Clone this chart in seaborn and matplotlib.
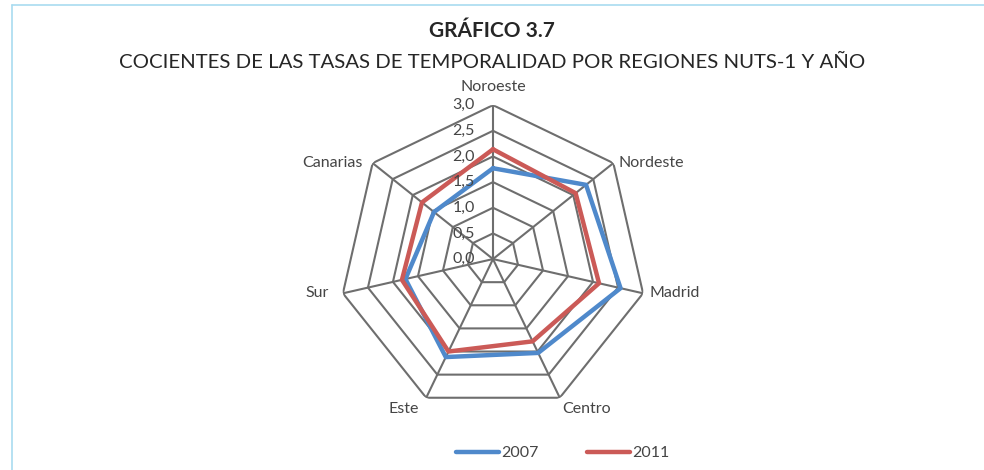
import numpy as np
import pandas as pd
import matplotlib.pyplot as plt
import seaborn as sns
from matplotlib.lines import Line2D
from matplotlib.transforms import offset_copy

# data
regiones = ['Noroeste', 'Nordeste', 'Madrid', 'Centro', 'Este', 'Sur', 'Canarias']
v2007 = [1.77, 2.32, 2.55, 2.03, 2.12, 1.75, 1.47]
v2011 = [2.14, 2.06, 2.12, 1.78, 2.00, 1.82, 1.77]
anios = ['2007', '2011']
niveles = [0.0, 0.5, 1.0, 1.5, 2.0, 2.5, 3.0]
etiquetas_r = ['0,0', '0,5', '1,0', '1,5', '2,0', '2,5', '3,0']
colores = {'2007': '#4F89CB', '2011': '#CB5A57'}

sns.set_theme(style='white')
plt.rcParams['font.family'] = ['Lato', 'DejaVu Sans']

n = len(regiones)
ang = np.linspace(0, 2 * np.pi, n, endpoint=False)
ang_c = np.append(ang, 2 * np.pi)

rows = []
for a, vals in zip(anios, [v2007, v2011]):
    for t, v in zip(ang_c, vals + vals[:1]):
        rows.append({'theta': t, 'valor': v, 'anio': a})
df = pd.DataFrame(rows)

fig = plt.figure(figsize=(9.84, 4.70), dpi=100)
ax = fig.add_axes([0.3445, 0.1213, 0.313, 0.655], projection='polar')
ax.set_theta_zero_location('N')
ax.set_theta_direction(-1)
ax.set_ylim(0, 3.0)
ax.grid(False)
ax.spines['polar'].set_visible(False)
ax.set_xticks([])
ax.set_yticks([])
ax.set_facecolor('none')

gris = '#6E6E6E'
# polygon grid + spokes
for r in niveles[1:]:
    ax.plot(ang_c, [r] * (n + 1), color=gris, lw=1.5, zorder=1)
for t in ang:
    ax.plot([t, t], [0, 3.0], color=gris, lw=1.5, zorder=1)

sns.lineplot(data=df, x='theta', y='valor', hue='anio', palette=colores,
             sort=False, estimator=None, linewidth=3.2, legend=False, ax=ax, zorder=3)
ax.set_xlabel('')
ax.set_ylabel('')

txt = '#454545'
lab_tr = offset_copy(ax.transData, fig=fig, x=-13, y=0, units='points')
for r, s in zip(niveles, etiquetas_r):
    ax.text(0, r, s, transform=lab_tr, ha='right', va='center', fontsize=11.5,
            color=txt, zorder=4)

aligns = [('center', 'bottom'), ('left', 'center'), ('left', 'center'),
          ('left', 'top'), ('right', 'top'), ('right', 'center'), ('right', 'center')]
offs = [(0, 8), (4, 0), (4.5, 0), (2, -3), (-5, -3), (-10, 0), (-7, 0)]
for t, reg, (ha, va), (ox, oy) in zip(ang, regiones, aligns, offs):
    tr = offset_copy(ax.transData, fig=fig, x=ox, y=oy, units='points')
    ax.text(t, 3.0, reg, transform=tr, ha=ha, va=va, fontsize=11.5, color=txt)

fig.text(0.5, 0.935, 'GRÁFICO 3.7', ha='center', va='center', fontsize=15,
         fontweight='bold', color='#262626')
fig.text(0.5, 0.868, 'COCIENTES DE LAS TASAS DE TEMPORALIDAD POR REGIONES NUTS-1 Y AÑO',
         ha='center', va='center', fontsize=14.7, color='#262626')

handles = [Line2D([0], [0], color=colores[a], lw=3.2, solid_capstyle='round') for a in anios]
fig.legend(handles, anios, loc='center', bbox_to_anchor=(0.572, 0.036), ncol=2,
           frameon=False, handlelength=2.7, handletextpad=0.15, columnspacing=3.0,
           prop={'size': 11.5}, labelcolor=txt)

# light blue frame on top/left
fig.add_artist(Line2D([12 / 984, 1], [1 - 5 / 470, 1 - 5 / 470], color='#A9DCF0', lw=1.2))
fig.add_artist(Line2D([12 / 984, 12 / 984], [0, 1 - 5 / 470], color='#A9DCF0', lw=1.2))

fig.savefig('out.png', dpi=100)
